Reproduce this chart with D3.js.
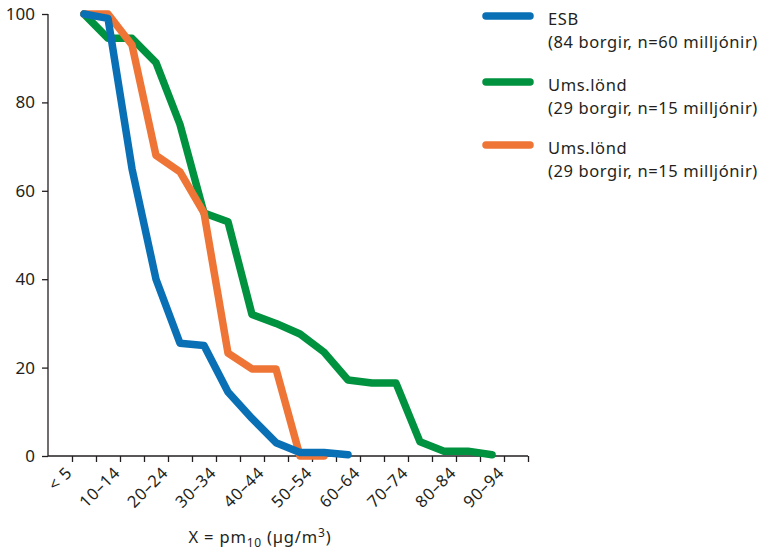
<!DOCTYPE html>
<html><head><meta charset="utf-8">
<script src="https://cdn.jsdelivr.net/npm/d3@7"></script>
<style>
html,body{margin:0;padding:0;background:#fff;}
svg text{font-family:"Noto Sans","Open Sans",sans-serif;fill:#231f20;}
</style></head>
<body>
<svg id="chart" width="759" height="551"></svg>
<script>
const categories = ["< 5","5–9","10–14","15–19","20–24","25–29","30–34","35–39","40–44","45–49","50–54","55–59","60–64","65–69","70–74","75–79","80–84","85–89","90–94"];
const esbValues = [100, 99, 65, 40, 25.5, 25, 14.5, 8.5, 3, 0.8, 0.8, 0.3];
const greenValues = [100, 94.5, 94.5, 89, 75, 55, 53, 32, 30, 27.6, 23.5, 17.2, 16.5, 16.5, 3.2, 1.1, 1.1, 0.3];
const orangeValues = [100, 100, 93, 68, 64.3, 55, 23.3, 19.7, 19.7, 0, 0];
const yTicks = [0, 20, 40, 60, 80, 100];
const seriesNames = ["ESB", "Ums.lönd", "Ums.lönd"];
const seriesNotes = ["(84 borgir, n=60 milljónir)", "(29 borgir, n=15 milljónir)", "(29 borgir, n=15 milljónir)"];
const colors = ["#0a70b5", "#00923f", "#ee7536"];

const svg = d3.select("#chart");
const x = d3.scaleLinear().domain([-1.5, 18.5]).range([48, 528]);
const y = d3.scaleLinear().domain([0, 100]).range([456, 14]);

// y axis
const yAxis = svg.append("g").attr("transform","translate(48,0)")
  .call(d3.axisLeft(y).tickValues(yTicks).tickSize(6).tickPadding(7).tickFormat(d3.format("d")));
yAxis.select(".domain").attr("stroke","#231f20").attr("stroke-width",1.3).attr("d","M0,456V14");
yAxis.selectAll(".tick line").attr("stroke","#231f20").attr("stroke-width",1.3);
yAxis.selectAll("text").attr("font-size",17).attr("fill","#231f20");

// x axis
const tickIdx = d3.range(0, 20);
const xAxis = svg.append("g").attr("transform","translate(0,456)")
  .call(d3.axisBottom(x).tickValues(tickIdx.map(i => i - 0.5)).tickSize(6).tickFormat(""));
xAxis.select(".domain").attr("stroke","#231f20").attr("stroke-width",1.3).attr("d","M48,0H528");
xAxis.selectAll(".tick line").attr("stroke","#231f20").attr("stroke-width",1.3);

svg.append("g").selectAll("text")
  .data(categories.map((c,i)=>({c,i})).filter(d => d.i % 2 === 0))
  .join("text")
  .attr("text-anchor","end")
  .attr("font-size",16.5)
  .attr("letter-spacing",0.6)
  .attr("transform", d => `translate(${x(d.i - 0.5) + 1},474) rotate(-45)`)
  .text(d => d.c);

// axis title
const title = svg.append("text").attr("x",260).attr("y",543).attr("text-anchor","middle")
  .attr("font-size",16.5).attr("letter-spacing",0.8);
title.append("tspan").text("X = pm");
title.append("tspan").attr("font-size",12).attr("dy",4).text("10");
title.append("tspan").attr("dy",-4).text(" (µg/m");
title.append("tspan").attr("font-size",12).attr("dy",-6).text("3");
title.append("tspan").attr("dy",6).text(")");

// lines
const line = d3.line().x((d,i)=>x(i)).y(d=>y(d));
const drawOrder = [[greenValues, colors[1]], [orangeValues, colors[2]], [esbValues, colors[0]]];
svg.append("g").selectAll("path").data(drawOrder).join("path")
  .attr("d", d => line(d[0]))
  .attr("fill","none")
  .attr("stroke", d => d[1])
  .attr("stroke-width", 7.5)
  .attr("stroke-linejoin","round")
  .attr("stroke-linecap","round");

// legend
const legendY = [16, 82, 145];
const lg = svg.append("g");
seriesNames.forEach((n, i) => {
  lg.append("line").attr("x1",486).attr("x2",530).attr("y1",legendY[i]).attr("y2",legendY[i])
    .attr("stroke",colors[i]).attr("stroke-width",7.5).attr("stroke-linecap","round");
  lg.append("text").attr("x",548).attr("y",legendY[i]+9).attr("font-size",16.5).attr("letter-spacing",0.6).text(n);
  lg.append("text").attr("x",548).attr("y",legendY[i]+32).attr("font-size",16.5).attr("letter-spacing",0.6).text(seriesNotes[i]);
});
</script>
</body></html>
